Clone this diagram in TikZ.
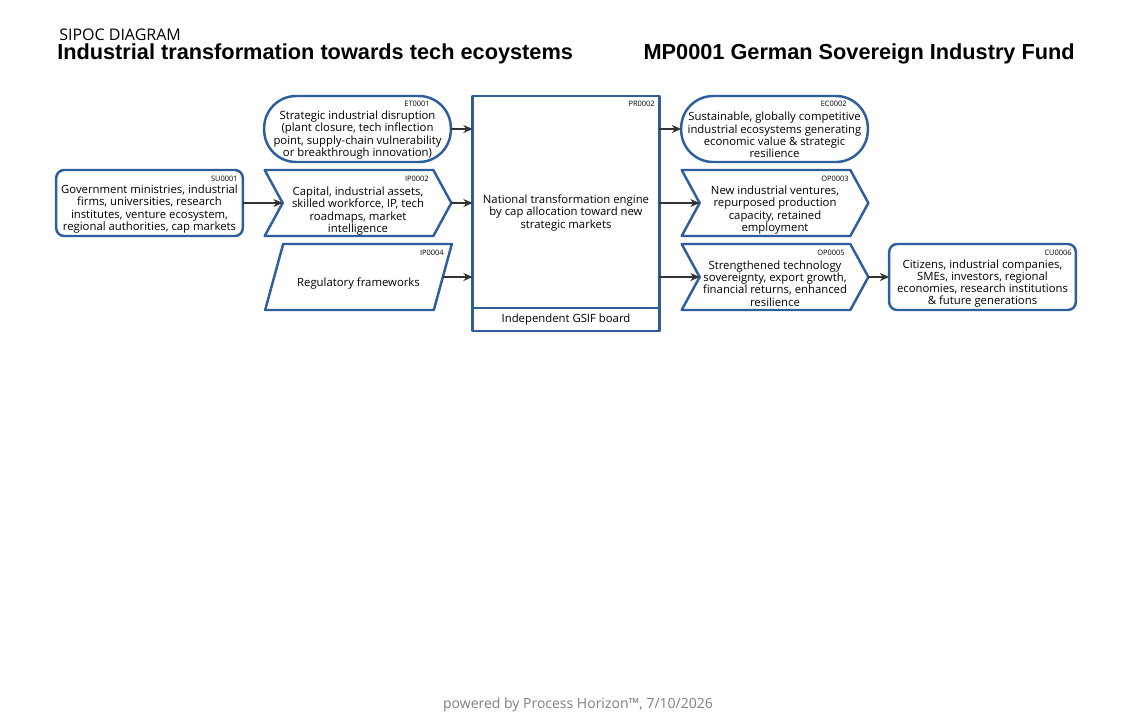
\documentclass[tikz,border=0pt]{standalone}
\usepackage{fontspec}
\setmainfont{Open Sans}
\newfontfamily\headfont{Liberation Sans}
\usepackage{tikz}
\usetikzlibrary{arrows.meta, calc}
\definecolor{sipocblue}{RGB}{46,94,158}
\definecolor{linkgray}{RGB}{51,51,51}
\definecolor{footgray}{RGB}{128,128,128}

\begin{document}
\begin{tikzpicture}[x=0.75pt, y=-0.75pt,
  box/.style={minimum width=140pt, minimum height=49.5pt, inner sep=0pt, outer sep=0pt},
  rim/.style={draw=sipocblue, line width=1.85pt, line join=round},
  txt/.style={align=center, font=\fontsize{8.5}{9.2}\selectfont, inner sep=0pt},
  idtag/.style={anchor=east, font=\fontsize{5.6}{6}\selectfont, inner sep=0pt},
  link/.style={-{Stealth[length=7pt, width=6pt]}, line width=1.1pt, draw=linkgray},
]
  \fill[white] (0,0) rectangle (1130,722);

  % header
  \node[anchor=west, inner sep=0pt, font=\fontsize{12}{13}\selectfont] (kind) at (59,35) {SIPOC DIAGRAM};
  \node[anchor=west, inner sep=0pt, font=\headfont\bfseries\fontsize{16.3}{18}\selectfont] (title) at (57,54) {Industrial transformation towards tech ecoystems};
  \node[anchor=east, inner sep=0pt, font=\headfont\bfseries\fontsize{16.3}{18}\selectfont] (fund) at (1075,54) {MP0001 German Sovereign Industry Fund};

  % suppliers
  \node[box, rim, rounded corners=6pt] (su1) at (149.5,203) {};
  \node[idtag] (su1id) at (238,179) {SU0001};
  \node[txt] (su1t) at (149.5,209) {Government ministries, industrial\\firms, universities, research\\institutes, venture ecosystem,\\regional authorities, cap markets};

  % inputs
  \node[box, rim, rounded corners=24pt] (et1) at (357.5,129) {};
  \node[idtag] (et1id) at (430,104) {ET0001};
  \node[txt] (et1t) at (357.5,135) {Strategic industrial disruption\\(plant closure, tech inflection\\point, supply-chain vulnerability\\or breakthrough innovation)};

  \node[box] (ip2) at (358,203) {};
  \draw[rim] (ip2.north west) -- ($(ip2.north east)+(-18,0)$) -- (ip2.east)
    -- ($(ip2.south east)+(-18,0)$) -- (ip2.south west) -- ($(ip2.west)+(18,0)$) -- cycle;
  \coordinate (ip2in) at ($(ip2.west)+(18,0)$);
  \node[idtag] (ip2id) at (429,179) {IP0002};
  \node[txt] (ip2t) at (358,211) {Capital, industrial assets,\\skilled workforce, IP, tech\\roadmaps, market\\intelligence};

  \node[box] (ip4) at (358.5,277) {};
  \draw[rim] ($(ip4.north west)+(18,0)$) -- (ip4.north east) -- ($(ip4.south east)+(-18,0)$)
    -- (ip4.south west) -- cycle;
  \coordinate (ip4out) at ($(ip4.east)+(-9,0)$);
  \node[idtag] (ip4id) at (444,253) {IP0004};
  \node[txt] (ip4t) at (358.5,284) {Regulatory frameworks};

  % process
  \node[box, rim, minimum height=176.25pt] (pr2) at (566,213.5) {};
  \draw[rim] ($(pr2.south west)+(0,-23)$) -- ($(pr2.south east)+(0,-23)$);
  \node[idtag] (pr2id) at (655,104) {PR0002};
  \node[txt] (pr2t) at (566,213) {National transformation engine\\by cap allocation toward new\\strategic markets};
  \node[txt] (pr2own) at (566,320) {Independent GSIF board};

  % outputs
  \node[box, rim, rounded corners=24pt] (ec2) at (774.5,129) {};
  \node[idtag] (ec2id) at (847,104) {EC0002};
  \node[txt] (ec2t) at (774.5,135) {Sustainable, globally competitive\\industrial ecosystems generating\\economic value \& strategic\\resilience};

  \node[box] (op3) at (775,203) {};
  \draw[rim] (op3.north west) -- ($(op3.north east)+(-18,0)$) -- (op3.east)
    -- ($(op3.south east)+(-18,0)$) -- (op3.south west) -- ($(op3.west)+(18,0)$) -- cycle;
  \coordinate (op3in) at ($(op3.west)+(18,0)$);
  \node[idtag] (op3id) at (849,179) {OP0003};
  \node[txt] (op3t) at (775,210) {New industrial ventures,\\repurposed production\\capacity, retained\\employment};

  \node[box] (op5) at (775,277) {};
  \draw[rim] (op5.north west) -- ($(op5.north east)+(-18,0)$) -- (op5.east)
    -- ($(op5.south east)+(-18,0)$) -- (op5.south west) -- ($(op5.west)+(18,0)$) -- cycle;
  \coordinate (op5in) at ($(op5.west)+(18,0)$);
  \node[idtag] (op5id) at (845,253) {OP0005};
  \node[txt] (op5t) at (775,283.5) {Strengthened technology\\sovereignty, export growth,\\financial returns, enhanced\\resilience};

  % customers
  \node[box, rim, rounded corners=6pt] (cu6) at (982.5,277) {};
  \node[idtag] (cu6id) at (1072,253) {CU0006};
  \node[txt] (cu6t) at (982.5,283.5) {Citizens, industrial companies,\\SMEs, investors, regional\\economies, research institutions\\\& future generations};

  % flows
  \draw[link] (su1.east) -- (ip2in);
  \draw[link] (et1.east) -- (et1.east -| pr2.west);
  \draw[link] (ip2.east) -- (ip2.east -| pr2.west);
  \draw[link] (ip4out) -- (ip4.east -| pr2.west);
  \draw[link] (pr2.east |- ec2.west) -- (ec2.west);
  \draw[link] (pr2.east |- op3.west) -- (op3in);
  \draw[link] (pr2.east |- op5.west) -- (op5in);
  \draw[link] (op5.east) -- (cu6.west);

  \node[font=\fontsize{10.5}{12}\selectfont, text=footgray] (foot) at (578,705) {powered by Process Horizon™, 7/10/2026};
\end{tikzpicture}
\end{document}
